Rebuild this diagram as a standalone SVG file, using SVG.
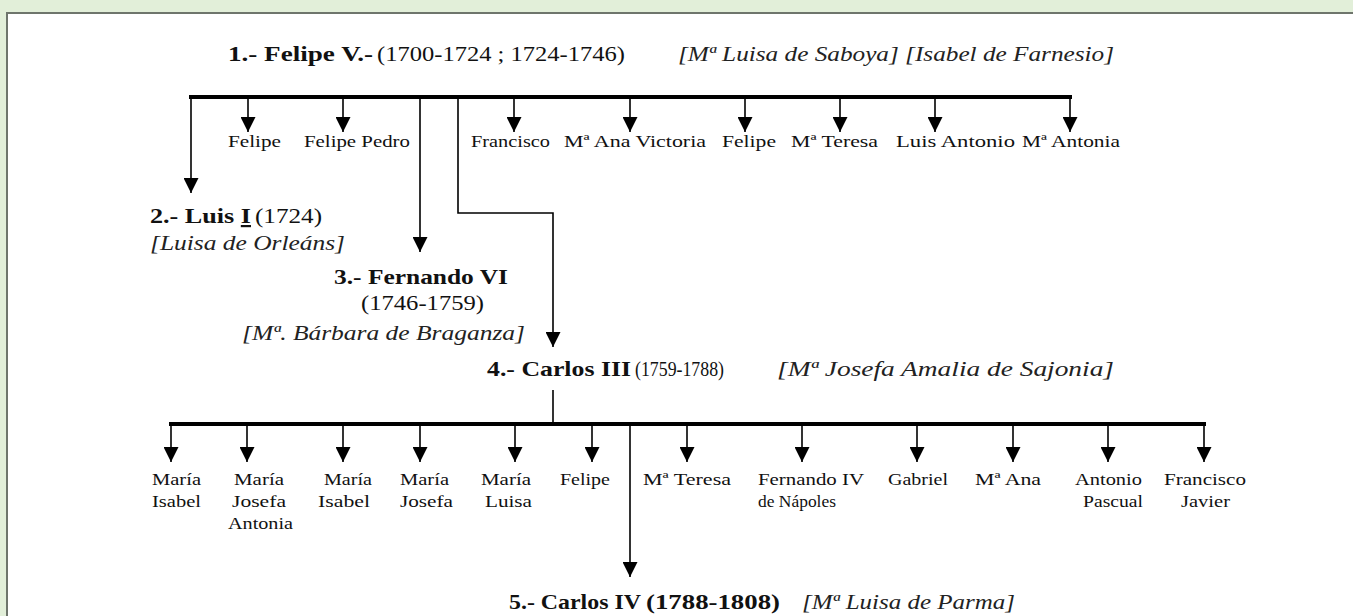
<svg xmlns="http://www.w3.org/2000/svg" width="1353" height="616" viewBox="0 0 1353 616">
<style>
text{font-family:"Liberation Serif","Times New Roman",serif;fill:#111}
.b{font-size:22px;font-weight:bold}
.r{font-size:22px}
.i{font-size:21px;font-style:italic;fill:#222}
.l{font-size:17.5px}
.ln{stroke:#000;stroke-width:1.6;fill:none}
.bar{stroke:#000;stroke-width:4;fill:none}
</style>
<defs>
<marker id="ah" markerUnits="userSpaceOnUse" markerWidth="15" markerHeight="15" refX="15" refY="7.5" orient="auto" viewBox="0 0 15 15">
<path d="M0,0 L15,7.5 L0,15 z" fill="#000"/>
</marker>
</defs>
<rect x="0" y="0" width="1353" height="616" fill="#e2efd9"/>
<rect x="7" y="13" width="1360" height="620" fill="#fff" stroke="#6e756c" stroke-width="2"/>

<g id="connectors">
<line class="bar" x1="189" y1="97" x2="1072" y2="97"/>
<line class="ln" x1="191" y1="97" x2="191" y2="193" marker-end="url(#ah)"/>
<line class="ln" x1="248" y1="97" x2="248" y2="132" marker-end="url(#ah)"/>
<line class="ln" x1="343" y1="97" x2="343" y2="132" marker-end="url(#ah)"/>
<line class="ln" x1="420" y1="97" x2="420" y2="252" marker-end="url(#ah)"/>
<path class="ln" d="M458,97 V213 H553 V347" marker-end="url(#ah)"/>
<line class="ln" x1="514" y1="97" x2="514" y2="132" marker-end="url(#ah)"/>
<line class="ln" x1="630" y1="97" x2="630" y2="132" marker-end="url(#ah)"/>
<line class="ln" x1="745" y1="97" x2="745" y2="132" marker-end="url(#ah)"/>
<line class="ln" x1="840" y1="97" x2="840" y2="132" marker-end="url(#ah)"/>
<line class="ln" x1="935" y1="97" x2="935" y2="132" marker-end="url(#ah)"/>
<line class="ln" x1="1070" y1="97" x2="1070" y2="132" marker-end="url(#ah)"/>

<line class="ln" x1="553" y1="390" x2="553" y2="424"/>
<line class="bar" x1="169" y1="424" x2="1206" y2="424"/>
<line class="ln" x1="171" y1="424" x2="171" y2="462" marker-end="url(#ah)"/>
<line class="ln" x1="247" y1="424" x2="247" y2="462" marker-end="url(#ah)"/>
<line class="ln" x1="343" y1="424" x2="343" y2="462" marker-end="url(#ah)"/>
<line class="ln" x1="420" y1="424" x2="420" y2="462" marker-end="url(#ah)"/>
<line class="ln" x1="515" y1="424" x2="515" y2="462" marker-end="url(#ah)"/>
<line class="ln" x1="592" y1="424" x2="592" y2="462" marker-end="url(#ah)"/>
<line class="ln" x1="630" y1="424" x2="630" y2="577" marker-end="url(#ah)"/>
<line class="ln" x1="687" y1="424" x2="687" y2="462" marker-end="url(#ah)"/>
<line class="ln" x1="802" y1="424" x2="802" y2="462" marker-end="url(#ah)"/>
<line class="ln" x1="917" y1="424" x2="917" y2="462" marker-end="url(#ah)"/>
<line class="ln" x1="1013" y1="424" x2="1013" y2="462" marker-end="url(#ah)"/>
<line class="ln" x1="1108" y1="424" x2="1108" y2="462" marker-end="url(#ah)"/>
<line class="ln" x1="1204" y1="424" x2="1204" y2="462" marker-end="url(#ah)"/>
</g>

<g id="felipe-v">
<text class="b" x="228" y="61" textLength="145" lengthAdjust="spacingAndGlyphs">1.- Felipe V.-</text>
<text class="r" x="377" y="61" textLength="248" lengthAdjust="spacingAndGlyphs">(1700-1724 ; 1724-1746)</text>
<text class="i" x="678" y="61" textLength="436" lengthAdjust="spacingAndGlyphs">[Mª Luisa de Saboya] [Isabel de Farnesio]</text>
</g>

<g id="hijos-felipe-v">
<text class="l" x="228" y="147" textLength="53" lengthAdjust="spacingAndGlyphs">Felipe</text>
<text class="l" x="304" y="147" textLength="106" lengthAdjust="spacingAndGlyphs">Felipe Pedro</text>
<text class="l" x="471" y="147" textLength="79" lengthAdjust="spacingAndGlyphs">Francisco</text>
<text class="l" x="564" y="147" textLength="142" lengthAdjust="spacingAndGlyphs">Mª Ana Victoria</text>
<text class="l" x="722" y="147" textLength="54" lengthAdjust="spacingAndGlyphs">Felipe</text>
<text class="l" x="791" y="147" textLength="87" lengthAdjust="spacingAndGlyphs">Mª Teresa</text>
<text class="l" x="896" y="147" textLength="119" lengthAdjust="spacingAndGlyphs">Luis Antonio</text>
<text class="l" x="1022" y="147" textLength="98" lengthAdjust="spacingAndGlyphs">Mª Antonia</text>
</g>

<g id="luis-i">
<text class="b" x="150" y="223" textLength="101" lengthAdjust="spacingAndGlyphs">2.- Luis <tspan text-decoration="underline">I</tspan></text>
<text class="r" x="255" y="223" textLength="67" lengthAdjust="spacingAndGlyphs">(1724)</text>
<text class="i" x="150" y="250" textLength="195" lengthAdjust="spacingAndGlyphs">[Luisa de Orleáns]</text>
</g>

<g id="fernando-vi">
<text class="b" x="334" y="284" textLength="174" lengthAdjust="spacingAndGlyphs">3.- Fernando VI</text>
<text class="r" x="361" y="310" textLength="123" lengthAdjust="spacingAndGlyphs">(1746-1759)</text>
<text class="i" x="242" y="340" textLength="283" lengthAdjust="spacingAndGlyphs">[Mª. Bárbara de Braganza]</text>
</g>

<g id="carlos-iii">
<text class="b" x="487" y="376" textLength="144" lengthAdjust="spacingAndGlyphs">4.- Carlos III</text>
<text class="r" x="635" y="376" textLength="89" lengthAdjust="spacingAndGlyphs">(1759-1788)</text>
<text class="i" x="777" y="376" textLength="337" lengthAdjust="spacingAndGlyphs">[Mª Josefa Amalia de Sajonia]</text>
</g>

<g id="hijos-carlos-iii">
<text class="l" x="152" y="485" textLength="49" lengthAdjust="spacingAndGlyphs">María</text>
<text class="l" x="152" y="507" textLength="49" lengthAdjust="spacingAndGlyphs">Isabel</text>
<text class="l" x="234" y="485" textLength="50" lengthAdjust="spacingAndGlyphs">María</text>
<text class="l" x="232" y="507" textLength="54" lengthAdjust="spacingAndGlyphs">Josefa</text>
<text class="l" x="228" y="529" textLength="65" lengthAdjust="spacingAndGlyphs">Antonia</text>
<text class="l" x="324" y="485" textLength="48" lengthAdjust="spacingAndGlyphs">María</text>
<text class="l" x="318" y="507" textLength="52" lengthAdjust="spacingAndGlyphs">Isabel</text>
<text class="l" x="400" y="485" textLength="49" lengthAdjust="spacingAndGlyphs">María</text>
<text class="l" x="400" y="507" textLength="53" lengthAdjust="spacingAndGlyphs">Josefa</text>
<text class="l" x="481" y="485" textLength="50" lengthAdjust="spacingAndGlyphs">María</text>
<text class="l" x="485" y="507" textLength="47" lengthAdjust="spacingAndGlyphs">Luisa</text>
<text class="l" x="560" y="485" textLength="50" lengthAdjust="spacingAndGlyphs">Felipe</text>
<text class="l" x="643" y="485" textLength="88" lengthAdjust="spacingAndGlyphs">Mª Teresa</text>
<text class="l" x="758" y="485" textLength="106" lengthAdjust="spacingAndGlyphs">Fernando IV</text>
<text class="l" x="758" y="507" textLength="78" lengthAdjust="spacingAndGlyphs">de Nápoles</text>
<text class="l" x="888" y="485" textLength="60" lengthAdjust="spacingAndGlyphs">Gabriel</text>
<text class="l" x="975" y="485" textLength="66" lengthAdjust="spacingAndGlyphs">Mª Ana</text>
<text class="l" x="1075" y="485" textLength="67" lengthAdjust="spacingAndGlyphs">Antonio</text>
<text class="l" x="1083" y="507" textLength="60" lengthAdjust="spacingAndGlyphs">Pascual</text>
<text class="l" x="1164" y="485" textLength="82" lengthAdjust="spacingAndGlyphs">Francisco</text>
<text class="l" x="1181" y="507" textLength="49" lengthAdjust="spacingAndGlyphs">Javier</text>
</g>

<g id="carlos-iv">
<text class="b" x="509" y="609" textLength="132" lengthAdjust="spacingAndGlyphs">5.- Carlos IV</text>
<text class="b" x="646" y="609" textLength="134" lengthAdjust="spacingAndGlyphs">(1788-1808)</text>
<text class="i" x="802" y="609" textLength="213" lengthAdjust="spacingAndGlyphs">[Mª Luisa de Parma]</text>
</g>
</svg>
